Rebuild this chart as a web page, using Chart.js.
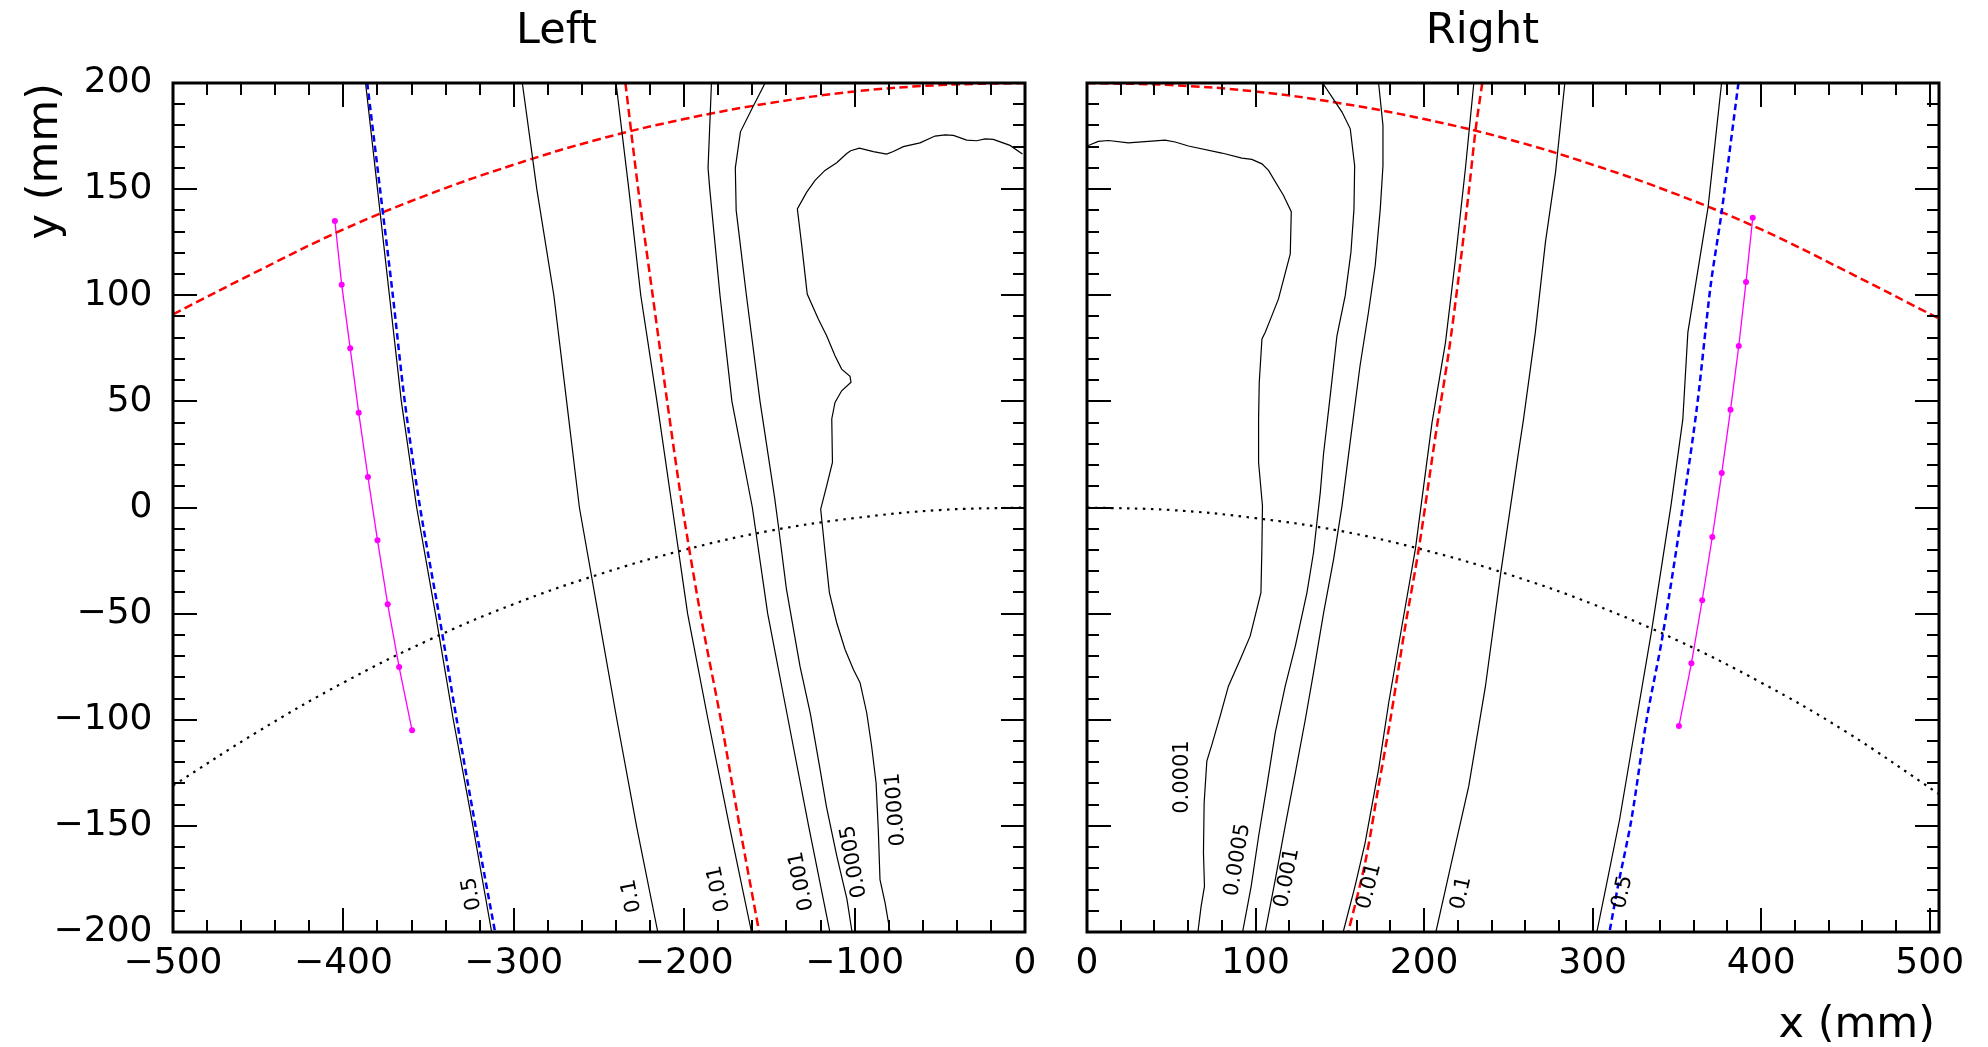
<!DOCTYPE html>
<html>
<head>
<meta charset="utf-8">
<script src="https://cdn.jsdelivr.net/npm/chart.js@4.4.1/dist/chart.umd.min.js"></script>
<style>
  html, body { margin: 0; padding: 0; background: #fff; }
  canvas { position: absolute; top: 0; }
  #left { left: 0; }
  #right { left: 1056px; }
</style>
</head>
<body>
<canvas id="left" width="1056" height="1047"></canvas>
<canvas id="right" width="932" height="1047"></canvas>
<script>
const FONT = 'DejaVu Sans';

// tick values
const yTicks = [-200, -150, -100, -50, 0, 50, 100, 150, 200];
const xTicksLeft = [-500, -400, -300, -200, -100, 0];
const xTicksRight = [0, 100, 200, 300, 400, 500];

// ---- Left panel ----
const arcUpperLeft = [[-500, 91], [-450, 111.5], [-400, 131], [-350, 147.5], [-300, 161.5], [-250, 173.5], [-200, 183], [-150, 190.5], [-100, 196], [-50, 199], [0, 200]];
const arcLowerLeft = [[-500, -131], [-450, -105.5], [-400, -82.5], [-350, -62.5], [-300, -45.5], [-250, -31.5], [-200, -20], [-150, -11], [-100, -5], [-50, -1.2], [0, 0]];
const blueLeft = [[-386, 200], [-378.5, 150], [-371, 100], [-364, 50], [-355, 0], [-344, -50], [-333.5, -100], [-322.5, -150], [-311, -200]];
const redLeft = [[-234.5, 200], [-227, 150], [-218.5, 100], [-210, 50], [-201, 0], [-190.5, -50], [-178.5, -100], [-167.5, -150], [-156, -200]];
const c05Left = [[-387, 200], [-380, 150], [-373, 100], [-366, 50], [-357, 0], [-346, -50], [-335.5, -100], [-324, -150], [-313, -200]];
const c01Left = [[-295, 200], [-286.5, 150], [-276.5, 100], [-269, 50], [-261.5, 0], [-250.5, -50], [-239.5, -100], [-228, -150], [-215.5, -200]];
const c001Left = [[-240, 200], [-232.5, 150], [-225.5, 100], [-216, 50], [-207, 0], [-198, -50], [-186, -100], [-173.5, -150], [-160.5, -200]];
const c0001Left = [[-184, 200], [-186, 160], [-185, 150], [-179, 100], [-172, 50], [-160, 0], [-151, -50], [-139, -100], [-127, -150], [-114.5, -200]];
const c00005Left = [[-152.5, 200], [-159.5, 189], [-167, 177], [-170, 160], [-169.5, 140], [-163.5, 100], [-155.5, 50], [-147, 5], [-144.5, -10], [-140, -38.5], [-132, -75], [-126, -97], [-121, -120], [-116.5, -141], [-110.5, -164], [-104.5, -184.5], [-101.5, -200]];
const c00001Left = [[-1.5, 166.5], [-8.8, 170.6], [-18.6, 173.4], [-23.4, 173.7], [-28.3, 172.8], [-34.2, 173.1], [-42, 175.3], [-46.9, 175.6], [-52.8, 175], [-61.6, 171.8], [-71.4, 170], [-77.3, 167.7], [-81.2, 166.5], [-89, 167.7], [-97.2, 169.3], [-102.3, 168.1], [-104.6, 166.8], [-110.5, 162.4], [-117.4, 158.8], [-123.2, 154.1], [-128.1, 148.6], [-133.6, 140.7], [-131, 123.4], [-127.8, 100.6], [-121.3, 88.8], [-116.4, 80.9], [-111.5, 71.5], [-107.6, 65.2], [-102.7, 61.8], [-102.1, 59], [-107.6, 55], [-111.5, 49.5], [-113.4, 41.7], [-113, 21.2], [-116.4, 10.2], [-119.9, -0.8], [-117.3, -21.2], [-114.8, -40.1], [-110.5, -54.3], [-105.6, -66.9], [-100.7, -76.3], [-96.8, -82.5], [-92.9, -96.7], [-90, -112.5], [-87.4, -129.7], [-86.1, -151.7], [-85.1, -175.3], [-82.1, -186.3], [-79.2, -200]];
const hitsLeft = [[-405, 135], [-401, 105], [-396, 75], [-391, 44.6], [-385.6, 14.4], [-380, -15.4], [-374, -45.6], [-367.3, -75.2], [-359.7, -105]];
const labelTextLeft = ['0.5', '0.1', '0.01', '0.001', '0.0005', '0.0001'];
const labelPosLeft = [[-324.5, -182], [-230.8, -183], [-179.5, -179.6], [-131, -176], [-100.3, -166.8], [-75.7, -142.3]];
const labelAngleLeft = [-100, -101, -102, -101, -100, -94.5];

// ---- Right panel ----
const arcUpperRight = [[0, 200], [50, 199], [100, 196], [150, 190.5], [200, 183], [250, 173.5], [300, 161.5], [350, 147.5], [400, 131], [450, 111.5], [505.5, 89]];
const arcLowerRight = [[0, 0], [50, -1.2], [100, -5], [150, -11], [200, -20], [250, -31.5], [300, -45.5], [350, -62.5], [400, -82.5], [450, -105.5], [505.5, -135]];
const blueRight = [[386.5, 200], [376.5, 139], [370, 104.5], [362, 48], [354, 3], [341.5, -60.5], [332, -100], [323, -147], [315, -178.5], [310, -200]];
const redRight = [[234.5, 200], [230.5, 177.6], [226.5, 148.6], [220.6, 109.2], [214.6, 73.1], [207, 35], [196.8, -19.7], [188.9, -55.6], [180, -99.9], [173, -131.3], [165, -167.5], [155, -200]];
const c05Right = [[376.5, 200], [368.5, 141.5], [356.5, 82.5], [353.5, 41.5], [346.5, 1], [335, -58], [326, -100], [316, -147], [308, -178.5], [302.5, -200]];
const c01Right = [[283.5, 200], [278, 158], [272, 125], [266, 82.5], [259, 41.6], [256, 26], [245.5, -30.7], [236.4, -84.2], [226.5, -131.3], [216.6, -166], [207, -200]];
const c001Right = [[229.5, 200], [224.5, 159.6], [218.6, 117.1], [212.7, 77.8], [204.7, 40], [194.8, -19.7], [186.9, -55.6], [179, -92], [173, -123.4], [165, -158], [159, -178.5], [152, -200]];
const c0001Right = [[173, 200], [175.6, 180], [175.6, 161], [174, 140.7], [171, 114], [167, 92], [162, 66.8], [156, 30], [151.3, 0.8], [146.3, -24.4], [140.4, -49.5], [134.4, -77.8], [129.5, -100], [123.6, -125], [117.6, -150], [111.7, -175.3], [105.7, -200]];
const c00005Right = [[139.8, 200], [151.3, 186.3], [156.2, 178.4], [158.8, 161], [158.4, 140.7], [156.6, 120.3], [153.2, 99.8], [148.3, 80.9], [144.3, 52.6], [140.3, 25], [138.4, 7], [134.4, -21.2], [130.5, -40.1], [123.6, -65.3], [117.6, -84.2], [111.7, -106.1], [106.7, -131.3], [101.8, -155], [97.4, -178.5], [92.3, -200]];
const c00001Right = [[0, 170.3], [6.7, 172.5], [12.7, 172.9], [24.5, 171.8], [46.3, 173.1], [52.3, 172.2], [60.2, 170.3], [80, 167], [91.9, 164.6], [97.8, 164], [103.8, 161.9], [107.7, 158.8], [116.6, 147], [121.2, 139.4], [120.6, 119.5], [113.6, 98.3], [109.7, 90.4], [105.7, 82.5], [103.8, 79.4], [102.2, 59], [101.8, 41.6], [101.8, 21.2], [104.1, 0.8], [103.8, -18.1], [103.2, -40.1], [96.8, -60.6], [90.9, -71.6], [83.9, -84.2], [79, -98.3], [74.1, -111.7], [71.1, -119.5], [69.5, -139.2], [69.1, -162.7], [69.7, -178.5], [67.7, -187.9], [65.8, -200]];
const hitsRight = [[395, 136.5], [391, 106.3], [386.7, 76.1], [381.8, 46], [376.6, 16.2], [371, -13.9], [365, -43.7], [358.6, -73.4], [351.2, -103]];
const labelTextRight = ['0.0001', '0.0005', '0.001', '0.01', '0.1', '0.5'];
const labelPosRight = [[56.4, -127], [89.4, -166], [118.8, -174.5], [167.5, -178.5], [222.2, -181.6], [317.8, -181.2]];
const labelAngleRight = [-90, -80.5, -79, -76, -77, -78];

Chart.defaults.font.family = FONT;
Chart.defaults.color = '#000';

const fmt = v => (v < 0 ? '\u2212' + Math.abs(v) : String(v));
const pts = arr => arr.map(([x, y]) => ({ x, y }));

function curve(arr, color, width, dash, tension) {
  return {
    data: pts(arr), showLine: true, borderColor: color, borderWidth: width,
    borderDash: dash || [], borderCapStyle: 'butt', pointRadius: 0,
    tension: tension || 0, fill: false
  };
}
function hits(arr) {
  return {
    data: pts(arr), showLine: true, borderColor: '#ff00ff', borderWidth: 1.3,
    pointRadius: 3, pointBackgroundColor: '#ff00ff', pointBorderWidth: 0, fill: false
  };
}

// ROOT style frame with inward major/minor ticks on all four sides
const frameTicks = {
  id: 'frameTicks',
  afterDraw(chart) {
    const { ctx, chartArea: a, scales: { x, y } } = chart;
    ctx.save();
    ctx.strokeStyle = '#000';
    ctx.lineWidth = 2;
    ctx.beginPath();
    for (let v = Math.ceil(x.min / 20) * 20; v <= x.max; v += 20) {
      const p = Math.round(x.getPixelForValue(v));
      const len = v % 100 === 0 ? 24 : 12;
      ctx.moveTo(p, a.bottom); ctx.lineTo(p, a.bottom - len);
      ctx.moveTo(p, a.top); ctx.lineTo(p, a.top + len);
    }
    for (let v = -200; v <= 200; v += 10) {
      const p = Math.round(y.getPixelForValue(v));
      const len = v % 50 === 0 ? 24 : 12;
      ctx.moveTo(a.left, p); ctx.lineTo(a.left + len, p);
      ctx.moveTo(a.right, p); ctx.lineTo(a.right - len, p);
    }
    ctx.stroke();
    ctx.lineWidth = 3;
    ctx.strokeRect(a.left, a.top, a.right - a.left, a.bottom - a.top);
    ctx.restore();
  }
};

// titles, axis titles and contour labels
function textPlugin(opts) {
  return {
    id: 'texts',
    afterDraw(chart) {
      const { ctx, scales: { x, y } } = chart;
      ctx.save();
      ctx.fillStyle = '#000';
      ctx.font = `43px "${FONT}"`;
      ctx.textAlign = 'center';
      ctx.textBaseline = 'alphabetic';
      ctx.fillText(opts.title, opts.titleX, 43);
      if (opts.yTitle) {
        ctx.save();
        ctx.translate(57, 83);
        ctx.rotate(-Math.PI / 2);
        ctx.textAlign = 'right';
        ctx.fillText(opts.yTitle, 0, 0);
        ctx.restore();
      }
      if (opts.xTitle) {
        ctx.textAlign = 'right';
        ctx.fillText(opts.xTitle, opts.xTitleX, 1037);
      }
      ctx.font = `21px "${FONT}"`;
      ctx.textAlign = 'center';
      ctx.textBaseline = 'middle';
      opts.labels.forEach((t, i) => {
        const [lx, ly] = opts.pos[i];
        ctx.save();
        ctx.translate(x.getPixelForValue(lx), y.getPixelForValue(ly));
        ctx.rotate(opts.angles[i] * Math.PI / 180);
        ctx.fillText(t, 0, 0);
        ctx.restore();
      });
      ctx.restore();
    }
  };
}

function scales(xmin, xmax, xt, yWidth, showY) {
  return {
    x: {
      type: 'linear', min: xmin, max: xmax,
      afterBuildTicks: s => { s.ticks = xt.map(v => ({ value: v })); },
      afterFit: s => { s.height = 115; },
      grid: { display: false }, border: { display: false },
      ticks: { autoSkip: false, maxRotation: 0, padding: 6, font: { size: 36, lineHeight: 1 }, color: '#000', callback: v => fmt(v) }
    },
    y: {
      type: 'linear', min: -200, max: 200,
      afterBuildTicks: s => { s.ticks = yTicks.map(v => ({ value: v })); },
      afterFit: s => { s.width = yWidth; },
      grid: { display: false }, border: { display: false },
      ticks: { display: showY, padding: 12.5, font: { size: 36, lineHeight: 1 }, color: '#000', callback: v => fmt(v) }
    }
  };
}

const common = {
  responsive: false,
  animation: false,
  events: [],
  plugins: { legend: { display: false }, tooltip: { enabled: false } }
};

new Chart(document.getElementById('left'), {
  type: 'scatter',
  data: {
    datasets: [
      curve(c05Left, '#000', 1.2),
      curve(c01Left, '#000', 1.2),
      curve(c001Left, '#000', 1.2),
      curve(c0001Left, '#000', 1.2),
      curve(c00005Left, '#000', 1.2),
      curve(c00001Left, '#000', 1.2),
      curve(blueLeft, '#0000ff', 2.5, [6.5, 4], 0.3),
      curve(redLeft, '#ff0000', 2.5, [8.5, 4.5], 0.3),
      curve(arcUpperLeft, '#ff0000', 2.5, [8.5, 4.5], 0.4),
      curve(arcLowerLeft, '#000', 2.2, [2.5, 5.5], 0.4),
      hits(hitsLeft)
    ]
  },
  options: Object.assign({}, common, {
    layout: { padding: { top: 83, right: 31, left: 0, bottom: 0 } },
    scales: scales(-500, 0, xTicksLeft, 173, true)
  }),
  plugins: [frameTicks, textPlugin({
    title: 'Left', titleX: 556.5, yTitle: 'y (mm)',
    labels: labelTextLeft, pos: labelPosLeft, angles: labelAngleLeft
  })]
});

new Chart(document.getElementById('right'), {
  type: 'scatter',
  data: {
    datasets: [
      curve(c05Right, '#000', 1.2),
      curve(c01Right, '#000', 1.2),
      curve(c001Right, '#000', 1.2),
      curve(c0001Right, '#000', 1.2),
      curve(c00005Right, '#000', 1.2),
      curve(c00001Right, '#000', 1.2),
      curve(blueRight, '#0000ff', 2.5, [6.5, 4], 0.3),
      curve(redRight, '#ff0000', 2.5, [8.5, 4.5], 0.3),
      curve(arcUpperRight, '#ff0000', 2.5, [8.5, 4.5], 0.4),
      curve(arcLowerRight, '#000', 2.2, [2.5, 5.5], 0.4),
      hits(hitsRight)
    ]
  },
  options: Object.assign({}, common, {
    layout: { padding: { top: 83, right: 49, left: 0, bottom: 0 } },
    scales: scales(0, 505.5, xTicksRight, 31, false)
  }),
  plugins: [frameTicks, textPlugin({
    title: 'Right', titleX: 426.4, xTitle: 'x (mm)', xTitleX: 879,
    labels: labelTextRight, pos: labelPosRight, angles: labelAngleRight
  })]
});
</script>
</body>
</html>
